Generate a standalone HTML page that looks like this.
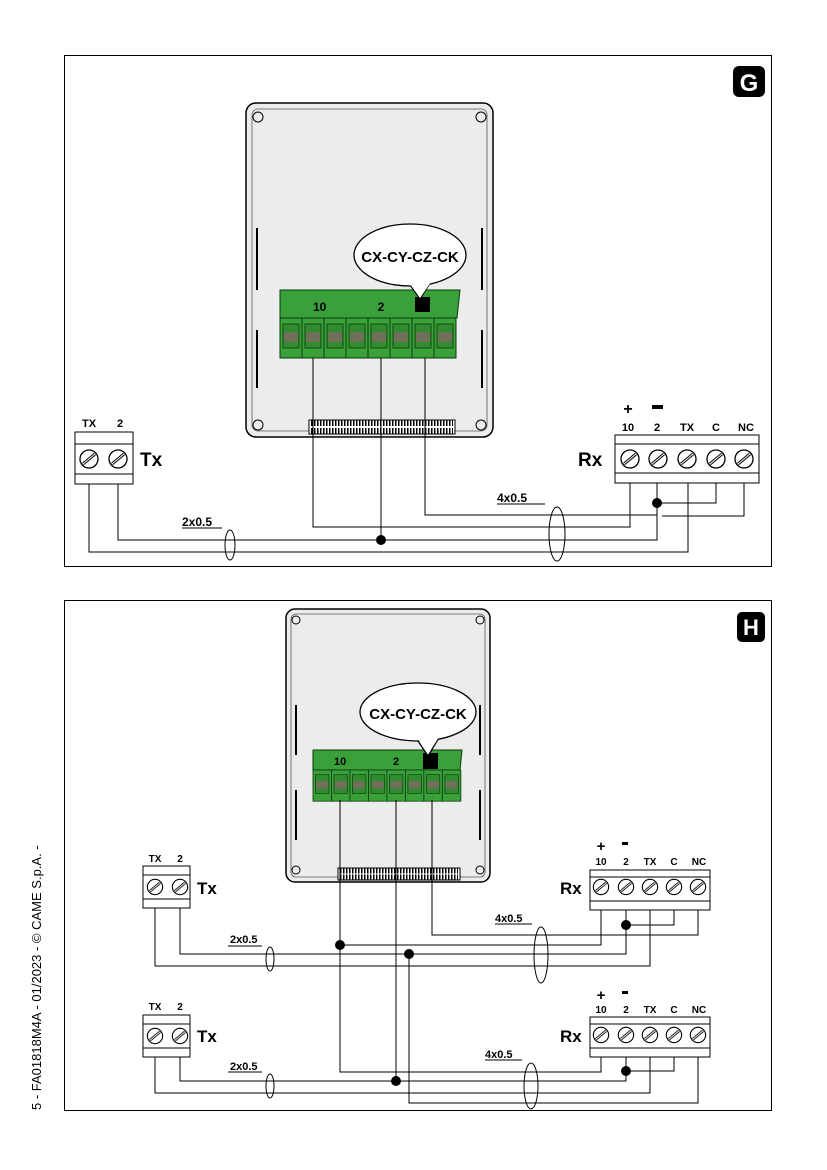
<!DOCTYPE html>
<html><head><meta charset="utf-8"><style>
html,body{margin:0;padding:0;background:#fff}
svg{display:block}
text{font-family:"Liberation Sans",sans-serif;font-weight:bold}
</style></head><body>
<svg width="827" height="1170" viewBox="0 0 827 1170" xmlns="http://www.w3.org/2000/svg">
<defs>
<g id="scr"><circle r="9" fill="#fff" stroke="#000" stroke-width="1.3"/><line x1="-6" y1="5" x2="6" y2="-5" stroke="#000" stroke-width="3"/><line x1="-6" y1="5" x2="6" y2="-5" stroke="#fff" stroke-width="1"/></g>
<g id="term"><rect x="0" y="0" width="22" height="40" fill="#3aa13a" stroke="#0a3a0a" stroke-width="1"/><rect x="3" y="6" width="16" height="24" fill="#2f8c2f" stroke="#0a3a0a" stroke-width="0.8"/><rect x="4" y="14" width="14" height="10" fill="#6f6f5a"/></g>
</defs>

<!-- PANEL G -->
<rect x="64.5" y="55.5" width="707" height="511" fill="#fff" stroke="#000" stroke-width="1"/>
<rect x="733" y="66" width="32" height="31" rx="6" fill="#000"/>
<text x="749" y="91" font-size="24" fill="#fff" text-anchor="middle">G</text>

<rect x="246" y="103" width="247" height="334" rx="10" fill="#ececec" stroke="#000" stroke-width="1.5"/>
<rect x="252" y="109" width="235" height="322" rx="6" fill="none" stroke="#555" stroke-width="0.8"/>
<line x1="257" y1="228" x2="257" y2="290" stroke="#000" stroke-width="2"/>
<line x1="257" y1="330" x2="257" y2="388" stroke="#000" stroke-width="2"/>
<line x1="482" y1="228" x2="482" y2="290" stroke="#000" stroke-width="2"/>
<line x1="482" y1="330" x2="482" y2="388" stroke="#000" stroke-width="2"/>
<circle cx="258" cy="117" r="5" fill="none" stroke="#000"/><circle cx="481" cy="117" r="5" fill="none" stroke="#000"/>
<circle cx="258" cy="425" r="5" fill="none" stroke="#000"/><circle cx="481" cy="425" r="5" fill="none" stroke="#000"/>
<rect x="309" y="420" width="146" height="14" fill="#fff" stroke="#000"/>
<path d="M311 423 h142 M311 431 h142" stroke="#000" stroke-dasharray="1.5 1.5" stroke-width="6"/>
<polygon points="280,290 460,290 457,318 280,318" fill="#3aa13a" stroke="#0a3a0a"/>
<rect x="415" y="297" width="15" height="15" fill="#000"/>
<path d="M408 282 L420 299 L432 280" fill="#fff" stroke="#000" stroke-width="1.3"/>
<ellipse cx="410" cy="255" rx="56" ry="31" fill="#fff" stroke="#000" stroke-width="1.3"/>
<path d="M410 284 L420 298 L431 282 Z" fill="#fff"/>
<text x="313" y="311" font-size="12">10</text><text x="381" y="311" font-size="12" text-anchor="middle">2</text>
<g transform="translate(280,318)">
<use href="#term" x="0"/><use href="#term" x="22"/><use href="#term" x="44"/><use href="#term" x="66"/><use href="#term" x="88"/><use href="#term" x="110"/><use href="#term" x="132"/><use href="#term" x="154"/></g>
<text x="410" y="262" font-size="15" text-anchor="middle">CX-CY-CZ-CK</text>

<!-- Tx G -->
<text x="89" y="427" font-size="11" text-anchor="middle">TX</text><text x="120" y="427" font-size="11" text-anchor="middle">2</text>
<rect x="75" y="432" width="58" height="52" fill="#fff" stroke="#000"/><line x1="75" y1="444" x2="133" y2="444" stroke="#000"/><line x1="75" y1="474" x2="133" y2="474" stroke="#000"/>
<use href="#scr" x="89" y="459"/><use href="#scr" x="118" y="459"/>
<text x="140" y="466" font-size="19">Tx</text>
<!-- Rx G -->
<text x="628" y="414" font-size="16" text-anchor="middle">+</text><rect x="652" y="405" width="11" height="4"/>
<text x="628" y="431" font-size="11" text-anchor="middle">10</text><text x="657" y="431" font-size="11" text-anchor="middle">2</text><text x="687" y="431" font-size="11" text-anchor="middle">TX</text><text x="716" y="431" font-size="11" text-anchor="middle">C</text><text x="746" y="431" font-size="11" text-anchor="middle">NC</text>
<rect x="615" y="435" width="144" height="48" fill="#fff" stroke="#000"/><line x1="615" y1="444" x2="759" y2="444" stroke="#000"/><line x1="615" y1="473" x2="759" y2="473" stroke="#000"/>
<use href="#scr" x="630" y="459"/><use href="#scr" x="658" y="459"/><use href="#scr" x="687" y="459"/><use href="#scr" x="716" y="459"/><use href="#scr" x="744" y="459"/>
<text x="578" y="466" font-size="19">Rx</text>
<g fill="none" stroke="#000" stroke-width="1">
<path d="M89 484 V552 H688 V483"/>
<path d="M118 484 V540 H657 V483"/>
<path d="M313 358 V527 H630 V483"/>
<path d="M381 358 V540"/>
<path d="M425 358 V515 H657"/>
<path d="M657 503 H716 V483"/>
<path d="M744 483 V516 H662"/>
<line x1="182" y1="528" x2="222" y2="528"/><line x1="497" y1="504" x2="545" y2="504"/>
</g>
<circle cx="381" cy="540" r="5"/><circle cx="657" cy="503" r="5"/>
<ellipse cx="230" cy="545" rx="5" ry="15" fill="none" stroke="#000"/>
<ellipse cx="557" cy="534" rx="8" ry="27" fill="none" stroke="#000"/>
<text x="182" y="526" font-size="12">2x0.5</text><text x="497" y="502" font-size="12">4x0.5</text>

<!-- PANEL H -->
<rect x="64.5" y="600.5" width="707" height="510" fill="#fff" stroke="#000" stroke-width="1"/>
<rect x="737" y="612" width="28" height="30" rx="5" fill="#000"/>
<text x="751" y="635" font-size="22" fill="#fff" text-anchor="middle">H</text>

<rect x="286" y="609" width="204" height="273" rx="9" fill="#ececec" stroke="#000" stroke-width="1.5"/>
<rect x="291" y="614" width="194" height="263" rx="5" fill="none" stroke="#555" stroke-width="0.8"/>
<line x1="296" y1="705" x2="296" y2="755" stroke="#000" stroke-width="2"/><line x1="296" y1="790" x2="296" y2="840" stroke="#000" stroke-width="2"/>
<line x1="480" y1="705" x2="480" y2="755" stroke="#000" stroke-width="2"/><line x1="480" y1="790" x2="480" y2="840" stroke="#000" stroke-width="2"/>
<circle cx="296" cy="620" r="4" fill="none" stroke="#000"/><circle cx="480" cy="620" r="4" fill="none" stroke="#000"/>
<circle cx="296" cy="870" r="4" fill="none" stroke="#000"/><circle cx="480" cy="870" r="4" fill="none" stroke="#000"/>
<rect x="338" y="868" width="122" height="12" fill="#fff" stroke="#000"/>
<path d="M340 871 h118 M340 877 h118" stroke="#000" stroke-dasharray="1.5 1.5" stroke-width="5"/>
<polygon points="313,750 462,750 460,770 313,770" fill="#3aa13a" stroke="#0a3a0a"/>
<rect x="423" y="753" width="15" height="16" fill="#000"/>
<path d="M416 738 L428 756 L440 736" fill="#fff" stroke="#000" stroke-width="1.3"/>
<ellipse cx="418" cy="712" rx="58" ry="29" fill="#fff" stroke="#000" stroke-width="1.3"/>
<path d="M418 739 L428 754 L439 737 Z" fill="#fff"/>
<text x="334" y="765" font-size="11">10</text><text x="396" y="765" font-size="11" text-anchor="middle">2</text>
<g transform="translate(313,770) scale(0.84,0.78)">
<use href="#term" x="0"/><use href="#term" x="22"/><use href="#term" x="44"/><use href="#term" x="66"/><use href="#term" x="88"/><use href="#term" x="110"/><use href="#term" x="132"/><use href="#term" x="154"/></g>
<text x="418" y="719" font-size="15" text-anchor="middle">CX-CY-CZ-CK</text>

<!-- Tx1 -->
<text x="155" y="862" font-size="10" text-anchor="middle">TX</text><text x="180" y="862" font-size="10" text-anchor="middle">2</text>
<rect x="143" y="866" width="47" height="42" fill="#fff" stroke="#000"/><line x1="143" y1="875" x2="190" y2="875" stroke="#000"/><line x1="143" y1="899" x2="190" y2="899" stroke="#000"/>
<g transform="translate(0,887)"><use href="#scr" x="155" transform="translate(155,0) scale(0.85) translate(-155,0)"/><use href="#scr" x="180" transform="translate(180,0) scale(0.85) translate(-180,0)"/></g>
<text x="197" y="894" font-size="17">Tx</text>
<!-- Rx1 -->
<text x="601" y="851" font-size="15" text-anchor="middle">+</text><rect x="622" y="842" width="6" height="3"/>
<text x="601" y="865" font-size="10" text-anchor="middle">10</text><text x="626" y="865" font-size="10" text-anchor="middle">2</text><text x="650" y="865" font-size="10" text-anchor="middle">TX</text><text x="674" y="865" font-size="10" text-anchor="middle">C</text><text x="699" y="865" font-size="10" text-anchor="middle">NC</text>
<rect x="590" y="870" width="120" height="40" fill="#fff" stroke="#000"/><line x1="590" y1="877" x2="710" y2="877" stroke="#000"/><line x1="590" y1="901" x2="710" y2="901" stroke="#000"/>
<g transform="translate(0,887)"><use href="#scr" x="601" transform="translate(601,0) scale(0.85) translate(-601,0)"/><use href="#scr" x="626" transform="translate(626,0) scale(0.85) translate(-626,0)"/><use href="#scr" x="650" transform="translate(650,0) scale(0.85) translate(-650,0)"/><use href="#scr" x="674" transform="translate(674,0) scale(0.85) translate(-674,0)"/><use href="#scr" x="698" transform="translate(698,0) scale(0.85) translate(-698,0)"/></g>
<text x="560" y="894" font-size="17">Rx</text>
<!-- Tx2 -->
<text x="155" y="1010" font-size="10" text-anchor="middle">TX</text><text x="180" y="1010" font-size="10" text-anchor="middle">2</text>
<rect x="143" y="1015" width="47" height="42" fill="#fff" stroke="#000"/><line x1="143" y1="1024" x2="190" y2="1024" stroke="#000"/><line x1="143" y1="1048" x2="190" y2="1048" stroke="#000"/>
<g transform="translate(0,1036)"><use href="#scr" x="155" transform="translate(155,0) scale(0.85) translate(-155,0)"/><use href="#scr" x="180" transform="translate(180,0) scale(0.85) translate(-180,0)"/></g>
<text x="197" y="1042" font-size="17">Tx</text>
<!-- Rx2 -->
<text x="601" y="1000" font-size="15" text-anchor="middle">+</text><rect x="622" y="991" width="6" height="3"/>
<text x="601" y="1013" font-size="10" text-anchor="middle">10</text><text x="626" y="1013" font-size="10" text-anchor="middle">2</text><text x="650" y="1013" font-size="10" text-anchor="middle">TX</text><text x="674" y="1013" font-size="10" text-anchor="middle">C</text><text x="699" y="1013" font-size="10" text-anchor="middle">NC</text>
<rect x="590" y="1017" width="120" height="40" fill="#fff" stroke="#000"/><line x1="590" y1="1024" x2="710" y2="1024" stroke="#000"/><line x1="590" y1="1048" x2="710" y2="1048" stroke="#000"/>
<g transform="translate(0,1035)"><use href="#scr" x="601" transform="translate(601,0) scale(0.85) translate(-601,0)"/><use href="#scr" x="626" transform="translate(626,0) scale(0.85) translate(-626,0)"/><use href="#scr" x="650" transform="translate(650,0) scale(0.85) translate(-650,0)"/><use href="#scr" x="674" transform="translate(674,0) scale(0.85) translate(-674,0)"/><use href="#scr" x="698" transform="translate(698,0) scale(0.85) translate(-698,0)"/></g>
<text x="560" y="1042" font-size="17">Rx</text>

<g fill="none" stroke="#000" stroke-width="1">
<!-- upper group -->
<path d="M155 908 V966 H650 V910"/>
<path d="M180 908 V954 H626 V910"/>
<path d="M340 800 V1072 H601 V1057"/>
<path d="M341 945 H601 V910"/>
<path d="M396 800 V1081"/>
<path d="M432 800 V935 H698 V910"/>
<path d="M626 925 H674 V910"/>
<!-- lower group -->
<path d="M155 1057 V1093 H650 V1057"/>
<path d="M180 1057 V1081 H626 V1057"/>
<path d="M626 1071 H674 V1057"/>
<path d="M409 954 V1103 H698 V1057"/>
<line x1="228" y1="946" x2="262" y2="946"/><line x1="495" y1="924" x2="532" y2="924"/>
<line x1="228" y1="1072" x2="262" y2="1072"/><line x1="485" y1="1060" x2="522" y2="1060"/>
</g>
<circle cx="340" cy="945" r="5"/><circle cx="409" cy="954" r="5"/><circle cx="626" cy="925" r="5"/>
<circle cx="396" cy="1081" r="5"/><circle cx="626" cy="1071" r="5"/>
<ellipse cx="270" cy="959" rx="4" ry="12" fill="none" stroke="#000"/>
<ellipse cx="541" cy="955" rx="7" ry="28" fill="none" stroke="#000"/>
<ellipse cx="270" cy="1086" rx="4" ry="12" fill="none" stroke="#000"/>
<ellipse cx="531" cy="1086" rx="7" ry="23" fill="none" stroke="#000"/>
<text x="230" y="943" font-size="11">2x0.5</text><text x="495" y="922" font-size="11">4x0.5</text>
<text x="230" y="1070" font-size="11">2x0.5</text><text x="485" y="1058" font-size="11">4x0.5</text>

<text transform="translate(41,1110) rotate(-90)" font-size="13" style="font-weight:normal">5  -  FA01818M4A - 01/2023 - © CAME S.p.A. -</text>
</svg>
</body></html>
